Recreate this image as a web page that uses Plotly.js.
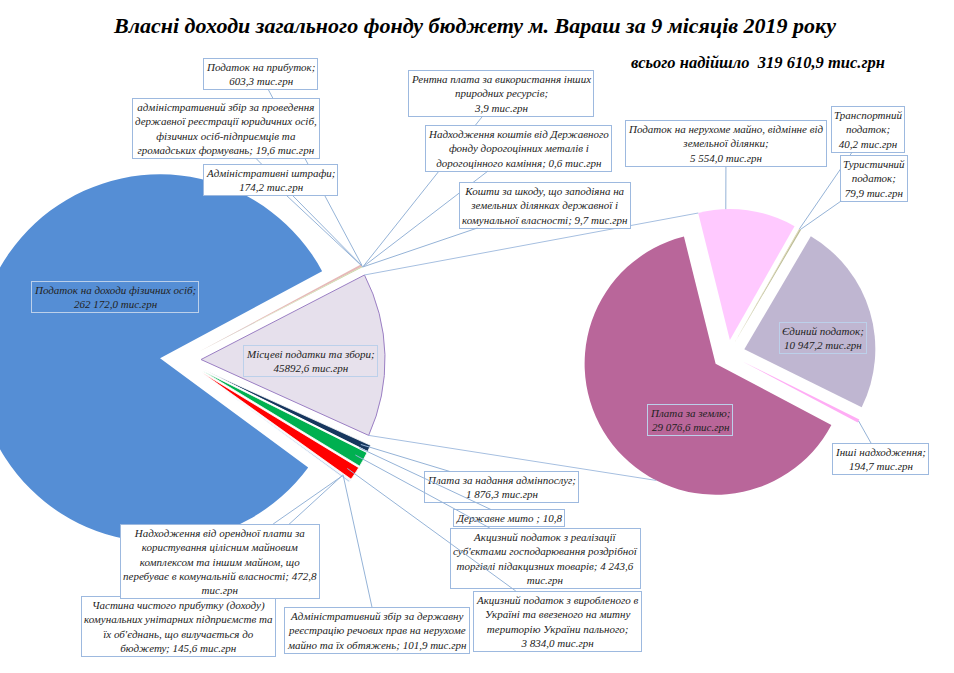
<!DOCTYPE html>
<html><head><meta charset="utf-8">
<script src="https://cdn.plot.ly/plotly-3.0.1.min.js"></script>
<style>
html,body{margin:0;padding:0;overflow:hidden;background:#fff;width:954px;height:673px}
#chart{position:absolute;left:-40px;top:0;width:994px;height:673px}
</style>
</head><body><div id="chart"></div>
<script>
// ---------- DATA ----------
const chartTitle = 'Власні доходи загального фонду бюджету м. Вараш за 9 місяців 2019 року';
const totalText = 'всього надійшло  319 610,9 тис.грн';

// Main pie, clockwise order
const mainLabels = [
  'Податок на доходи фізичних осіб', 'Податок на прибуток',
  'Адміністративний збір за проведення державної реєстрації юридичних осіб',
  'Адміністративні штрафи', 'Рентна плата за використання інших природних ресурсів',
  'Надходження коштів від Державного фонду дорогоцінних металів',
  'Кошти за шкоду, що заподіяна на земельних ділянках',
  'Місцеві податки та збори', 'Плата за надання адмінпослуг', 'Державне мито',
  'Акцизний податок з реалізації', 'Акцизний податок з виробленого в Україні та ввезеного пального',
  'Адміністративний збір за державну реєстрацію речових прав', 'Частина чистого прибутку',
  'Надходження від орендної плати'
];
const mainValues = [262172.0, 603.3, 19.6, 174.2, 3.9, 0.6, 9.7, 45892.6, 1876.3, 10.8, 4243.6, 3834.0, 101.9, 145.6, 472.8];
const mainTexts = [
  'Податок на доходи фізичних осіб;<br>262 172,0 тис.грн',
  'Податок на прибуток;<br>603,3 тис.грн',
  'адміністративний збір за проведення<br>державної реєстрації юридичних осіб,<br>фізичних осіб-підприємців та<br>громадських формувань; 19,6 тис.грн',
  'Адміністративні штрафи;<br>174,2 тис.грн',
  'Рентна плата за використання інших<br>природних ресурсів;<br>3,9 тис.грн',
  'Надходження коштів від Державного<br>фонду дорогоцінних металів і<br>дорогоцінного каміння; 0,6 тис.грн',
  'Кошти за шкоду, що заподіяна на<br>земельних ділянках державної і<br>комунальної власності; 9,7 тис.грн',
  'Місцеві податки та збори;<br>45892,6 тис.грн',
  'Плата за надання адмінпослуг;<br>1 876,3 тис.грн',
  'Державне мито ; 10,8',
  'Акцизний податок з реалізації<br>суб\'єктами господарювання роздрібної<br>торгівлі підакцизних товарів; 4 243,6<br>тис.грн',
  'Акцизний податок з виробленого в<br>Україні та ввезеного на митну<br>територію України пального;<br>3 834,0 тис.грн',
  'Адміністративний збір за державну<br>реєстрацію речових прав на нерухоме<br>майно та їх обтяжень; 101,9 тис.грн',
  'Частина чистого прибутку (доходу)<br>комунальних унітарних підприємств та<br>їх об\'єднань, що вилучається до<br>бюджету; 145,6 тис.грн',
  'Надходження від орендної плати за<br>користування цілісним майновим<br>комплексом та іншим майном, що<br>перебуває в комунальній власності; 472,8<br>тис.грн'
];

// Secondary pie (breakdown of local taxes), clockwise order
const subLabels = ['Податок на нерухоме майно, відмінне від земельної ділянки', 'Транспортний податок',
  'Туристичний податок', 'Єдиний податок', 'Інші надходження', 'Плата за землю'];
const subValues = [5554.0, 40.2, 79.9, 10947.2, 194.7, 29076.6];
const subTexts = [
  'Податок на нерухоме майно, відмінне від<br>земельної ділянки;<br>5 554,0 тис.грн',
  'Транспортний<br>податок;<br>40,2 тис.грн',
  'Туристичний<br>податок;<br>79,9 тис.грн',
  'Єдиний податок;<br>10 947,2 тис.грн',
  'Інші надходження;<br>194,7 тис.грн',
  'Плата за землю;<br>29 076,6 тис.грн'
];

// ---------- STYLE / LAYOUT ----------
const FONT = 'Liberation Serif, serif';
const mainColors = ['#558ED5', '#E6B9B8', '#B3A2C7', '#C3D69B', '#FAC090', '#93CDDD', '#D9D9D9',
  '#E6E0EC', '#17375E', '#7F7F7F', '#00B050', '#FF0000', '#8EB4E3', '#95B3D7', '#B7CCE8'];
const mainLineColors = mainColors.map((c, i) => i === 7 ? '#9B7FC4' : '#FFFFFF');
const mainLineWidths = mainValues.map((v, i) => i === 7 ? 1 : (i >= 8 ? 0.8 : 0));
const mainPull = [0.125, 0.1, 0.1, 0.1, 0.1, 0.1, 0.1, 0.098, 0.12, 0.12, 0.12, 0.12, 0.12, 0.12, 0.12];
const subColors = ['#FFC9FF', '#D8D2A6', '#BDBD95', '#BFB6D1', '#FFADF5', '#B9669A'];
const subPull = [0.107, 0.1, 0.1, 0.13, 0.12, 0.12];

const OFF = 40, W = 954 + OFF, H = 673;
const fx = px => (px + OFF) / W;
const fy = py => 1 - py / H;
const LP = {cx: 183, cy: 360, r: 184};
const RP = {cx: 728, cy: 354, r: 131};

function sliceAngles(values, rot) {
  const tot = values.reduce((a, b) => a + b, 0);
  let a = rot; const out = [];
  values.forEach(v => { const d = v / tot * 360; out.push({s: a, m: a + d / 2, e: a + d}); a += d; });
  return out;
}
// rotate main pie so that the split slice is centred near 3 o'clock
const mTot = mainValues.reduce((a, b) => a + b, 0);
const mDeg = mainValues.map(v => v / mTot * 360);
let rotMain = 88.5 - mDeg.slice(0, 7).reduce((a, b) => a + b, 0) - mDeg[7] / 2;
while (rotMain < -360) rotMain += 360;
const rotSub = -14;
const mA = sliceAngles(mainValues, rotMain);
const sA = sliceAngles(subValues, rotSub);

function pt(P, midDeg, pull, angDeg, k) {
  const m = midDeg * Math.PI / 180, a = angDeg * Math.PI / 180;
  return [P.cx + pull * P.r * Math.sin(m) + k * P.r * Math.sin(a),
          P.cy - pull * P.r * Math.cos(m) - k * P.r * Math.cos(a)];
}
function dom(P, pulls) {
  const h = P.r * (1 + Math.max(...pulls));
  return {x: [fx(P.cx - h), fx(P.cx + h)], y: [fy(P.cy + h), fy(P.cy - h)]};
}

const traces = [
  {type: 'pie', labels: mainLabels, values: mainValues, sort: false, direction: 'clockwise',
   rotation: rotMain, pull: mainPull, textinfo: 'none', hoverinfo: 'label+value',
   marker: {colors: mainColors, line: {color: mainLineColors, width: mainLineWidths}},
   domain: dom(LP, mainPull), showlegend: false},
  {type: 'pie', labels: subLabels, values: subValues, sort: false, direction: 'clockwise',
   rotation: rotSub, pull: subPull, textinfo: 'none', hoverinfo: 'label+value',
   marker: {colors: subColors, line: {color: '#FFFFFF', width: 0}},
   domain: dom(RP, subPull), showlegend: false}
];

const labelFont = {family: FONT, size: 11, color: '#222', style: 'italic'};
const boxBorder = '#9DB9DF';
const annotations = [];
// label box centres [x, y] in screen px; k = radial fraction of the leader-line tip (null = no line);
// f = position of the tip inside the slice (0..1)
const mainBoxes = [[115, 297, null], [260, 74, 1], [226, 128, 1], [270, 180, 1], [501, 93, 1], [518, 148, 1], [545, 205, 1],
  [310, 361, null], [501, 487, 0.95], [509, 518, 0.95], [545, 558, 0.95], [557, 621, 0.95], [377, 630, 0.95], [178, 626, 0.95], [220, 561, 0.95]];
const subBoxes = [[726, 144, 1, 0.28], [868, 129, 1], [874, 178, 1], [823, 338, null], [880, 459, 1], [690, 420, null]];

function addLabels(P, ang, pulls, texts, boxes, inner) {
  boxes.forEach((b, i) => {
    const [tx, ty, k, f] = b;
    const base = {text: texts[i], xref: 'paper', yref: 'paper', font: labelFont, align: 'center',
      bordercolor: boxBorder, borderwidth: 1, borderpad: 2, bgcolor: '#FFFFFF'};
    if (k === null) {
      Object.assign(base, {x: fx(tx), y: fy(ty), showarrow: false, xanchor: 'center', yanchor: 'middle',
        bgcolor: inner[i] || 'rgba(0,0,0,0)', bordercolor: '#BCD0EA'});
    } else {
      const a = ang[i].s + (f === undefined ? 0.5 : f) * (ang[i].e - ang[i].s);
      const tip = pt(P, ang[i].m, pulls[i], a, k);
      Object.assign(base, {x: fx(tip[0]), y: fy(tip[1]), showarrow: true, arrowhead: 0, arrowwidth: 1,
        arrowcolor: '#95B3D7', standoff: 0, axref: 'pixel', ayref: 'pixel', ax: tx - tip[0], ay: ty - tip[1]});
    }
    annotations.push(base);
  });
}
addLabels(LP, mA, mainPull, mainTexts, mainBoxes, {0: 'rgba(85,142,213,0)', 7: 'rgba(230,224,236,0.85)'});
addLabels(RP, sA, subPull, subTexts, subBoxes, {3: 'rgba(191,182,209,0.6)', 5: 'rgba(185,102,154,0.6)'});

annotations.push({text: totalText, xref: 'paper', yref: 'paper', x: fx(758), y: fy(62), showarrow: false,
  xanchor: 'center', yanchor: 'middle',
  font: {family: FONT, size: 16.5, color: '#000', style: 'italic', weight: 'bold'}});

// connector lines between the split slice and the secondary pie
const c1a = pt(LP, mA[7].m, mainPull[7], mA[7].s, 1);
const c1b = pt(RP, sA[0].m, subPull[0], sA[0].s, 1);
const c2a = pt(LP, mA[7].m, mainPull[7], mA[7].e, 1);
const c2b = pt(RP, sA[5].m, subPull[5], 207, 1);
const shapes = [[c1a, c1b], [c2a, c2b]].map(([a, b]) => ({type: 'line', xref: 'paper', yref: 'paper',
  x0: fx(a[0]), y0: fy(a[1]), x1: fx(b[0]), y1: fy(b[1]), line: {color: '#A6BFE0', width: 1}, layer: 'above'}));

const layout = {
  width: W, height: H, margin: {l: 0, r: 0, t: 0, b: 0}, paper_bgcolor: '#FFFFFF',
  font: {family: FONT},
  title: {text: chartTitle, xref: 'paper', x: fx(475), xanchor: 'center', yref: 'container', y: 1 - 25 / H, yanchor: 'middle',
    font: {family: FONT, size: 22, color: '#000', style: 'italic', weight: 'bold'}},
  annotations: annotations, shapes: shapes, showlegend: false
};
Plotly.newPlot('chart', traces, layout, {displayModeBar: false, staticPlot: true});
</script>
</body></html>
